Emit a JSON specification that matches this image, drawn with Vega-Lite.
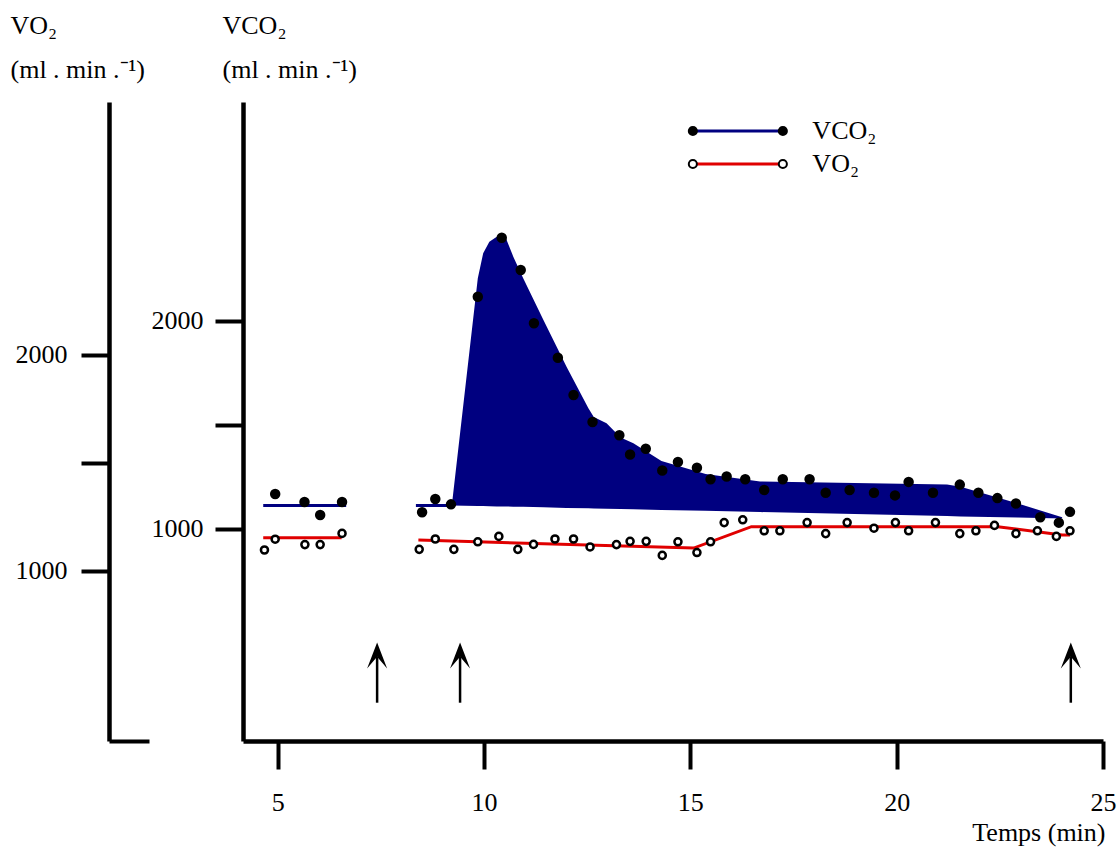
{
  "$schema": "https://vega.github.io/schema/vega-lite/v6.json",
  "width": 860,
  "height": 639,
  "autosize": "none",
  "padding": {"left": 243, "top": 102, "right": 14, "bottom": 106},
  "background": "white",
  "config": {
    "view": {"stroke": null},
    "font": "Liberation Serif",
    "axis": {
      "grid": false,
      "domainColor": "black",
      "domainWidth": 4.5,
      "tickColor": "black",
      "tickWidth": 4,
      "tickSize": 28,
      "labelFont": "Liberation Serif",
      "labelFontSize": 26,
      "labelColor": "black",
      "titleFont": "Liberation Serif",
      "titleFontSize": 26,
      "titleFontWeight": "normal",
      "titleColor": "black",
      "labelOverlap": false,
      "labelFlush": false
    }
  },
  "datasets": {
    "vco2pts": [
      {"t": 4.94, "v": 1167, "series": "VCO₂"}, {"t": 5.65, "v": 1128, "series": "VCO₂"}, {"t": 6.03, "v": 1066, "series": "VCO₂"}, {"t": 6.56, "v": 1128, "series": "VCO₂"},
      {"t": 8.50, "v": 1079, "series": "VCO₂"}, {"t": 8.82, "v": 1143, "series": "VCO₂"}, {"t": 9.20, "v": 1117, "series": "VCO₂"}, {"t": 9.85, "v": 2115, "series": "VCO₂"},
      {"t": 10.43, "v": 2399, "series": "VCO₂"}, {"t": 10.89, "v": 2244, "series": "VCO₂"}, {"t": 11.21, "v": 1988, "series": "VCO₂"}, {"t": 11.79, "v": 1822, "series": "VCO₂"},
      {"t": 12.17, "v": 1643, "series": "VCO₂"}, {"t": 12.63, "v": 1513, "series": "VCO₂"}, {"t": 13.28, "v": 1449, "series": "VCO₂"}, {"t": 13.54, "v": 1357, "series": "VCO₂"},
      {"t": 13.92, "v": 1384, "series": "VCO₂"}, {"t": 14.32, "v": 1280, "series": "VCO₂"}, {"t": 14.70, "v": 1321, "series": "VCO₂"}, {"t": 15.16, "v": 1293, "series": "VCO₂"},
      {"t": 15.49, "v": 1238, "series": "VCO₂"}, {"t": 15.88, "v": 1251, "series": "VCO₂"}, {"t": 16.33, "v": 1238, "series": "VCO₂"}, {"t": 16.79, "v": 1186, "series": "VCO₂"},
      {"t": 17.24, "v": 1238, "series": "VCO₂"}, {"t": 17.89, "v": 1238, "series": "VCO₂"}, {"t": 18.28, "v": 1173, "series": "VCO₂"}, {"t": 18.86, "v": 1186, "series": "VCO₂"},
      {"t": 19.45, "v": 1173, "series": "VCO₂"}, {"t": 19.96, "v": 1160, "series": "VCO₂"}, {"t": 20.29, "v": 1225, "series": "VCO₂"}, {"t": 20.88, "v": 1173, "series": "VCO₂"},
      {"t": 21.53, "v": 1212, "series": "VCO₂"}, {"t": 21.98, "v": 1173, "series": "VCO₂"}, {"t": 22.44, "v": 1147, "series": "VCO₂"}, {"t": 22.89, "v": 1121, "series": "VCO₂"},
      {"t": 23.48, "v": 1055, "series": "VCO₂"}, {"t": 23.93, "v": 1029, "series": "VCO₂"}, {"t": 24.20, "v": 1081, "series": "VCO₂"}
    ],
    "vco2line": [
      {"t": 4.65, "v": 1111, "seg": "a", "series": "VCO₂"}, {"t": 6.66, "v": 1111, "seg": "a", "series": "VCO₂"},
      {"t": 8.35, "v": 1111, "seg": "b", "series": "VCO₂"}, {"t": 9.24, "v": 1111, "seg": "b", "series": "VCO₂"}
    ],
    "area": [
      {"t": 9.22, "hi": 1111, "lo": 1112}, {"t": 9.85, "hi": 2204, "lo": 1109}, {"t": 9.98, "hi": 2324, "lo": 1109},
      {"t": 10.13, "hi": 2380, "lo": 1108}, {"t": 10.31, "hi": 2404, "lo": 1107}, {"t": 10.39, "hi": 2412, "lo": 1107},
      {"t": 10.51, "hi": 2407, "lo": 1107}, {"t": 10.71, "hi": 2308, "lo": 1106}, {"t": 10.95, "hi": 2204, "lo": 1105},
      {"t": 11.44, "hi": 2003, "lo": 1103}, {"t": 12.00, "hi": 1779, "lo": 1100}, {"t": 12.53, "hi": 1579, "lo": 1098},
      {"t": 12.66, "hi": 1537, "lo": 1097}, {"t": 12.97, "hi": 1507, "lo": 1096}, {"t": 13.31, "hi": 1439, "lo": 1095},
      {"t": 13.62, "hi": 1411, "lo": 1093}, {"t": 14.30, "hi": 1325, "lo": 1090}, {"t": 15.37, "hi": 1263, "lo": 1086},
      {"t": 16.69, "hi": 1227, "lo": 1080}, {"t": 21.22, "hi": 1213, "lo": 1061}, {"t": 21.55, "hi": 1202, "lo": 1059},
      {"t": 22.94, "hi": 1121, "lo": 1054}, {"t": 24.01, "hi": 1055, "lo": 1049}
    ],
    "vo2pts": [
      {"t": 4.68, "v": 1096, "series": "VO₂"}, {"t": 4.94, "v": 1146, "series": "VO₂"}, {"t": 5.66, "v": 1121, "series": "VO₂"}, {"t": 6.03, "v": 1121, "series": "VO₂"}, {"t": 6.56, "v": 1173, "series": "VO₂"},
      {"t": 8.43, "v": 1099, "series": "VO₂"}, {"t": 8.82, "v": 1147, "series": "VO₂"}, {"t": 9.27, "v": 1099, "series": "VO₂"}, {"t": 9.85, "v": 1134, "series": "VO₂"},
      {"t": 10.36, "v": 1159, "series": "VO₂"}, {"t": 10.82, "v": 1099, "series": "VO₂"}, {"t": 11.20, "v": 1122, "series": "VO₂"}, {"t": 11.72, "v": 1147, "series": "VO₂"},
      {"t": 12.17, "v": 1147, "series": "VO₂"}, {"t": 12.57, "v": 1110, "series": "VO₂"}, {"t": 13.21, "v": 1121, "series": "VO₂"}, {"t": 13.54, "v": 1136, "series": "VO₂"},
      {"t": 13.93, "v": 1136, "series": "VO₂"}, {"t": 14.32, "v": 1071, "series": "VO₂"}, {"t": 14.70, "v": 1134, "series": "VO₂"}, {"t": 15.16, "v": 1084, "series": "VO₂"},
      {"t": 15.49, "v": 1134, "series": "VO₂"}, {"t": 15.82, "v": 1223, "series": "VO₂"}, {"t": 16.27, "v": 1236, "series": "VO₂"}, {"t": 16.79, "v": 1185, "series": "VO₂"},
      {"t": 17.17, "v": 1185, "series": "VO₂"}, {"t": 17.83, "v": 1223, "series": "VO₂"}, {"t": 18.28, "v": 1172, "series": "VO₂"}, {"t": 18.80, "v": 1223, "series": "VO₂"},
      {"t": 19.45, "v": 1197, "series": "VO₂"}, {"t": 19.97, "v": 1223, "series": "VO₂"}, {"t": 20.29, "v": 1185, "series": "VO₂"}, {"t": 20.94, "v": 1223, "series": "VO₂"},
      {"t": 21.53, "v": 1172, "series": "VO₂"}, {"t": 21.92, "v": 1185, "series": "VO₂"}, {"t": 22.37, "v": 1210, "series": "VO₂"}, {"t": 22.89, "v": 1172, "series": "VO₂"},
      {"t": 23.41, "v": 1185, "series": "VO₂"}, {"t": 23.87, "v": 1159, "series": "VO₂"}, {"t": 24.20, "v": 1185, "series": "VO₂"}
    ],
    "vo2line": [
      {"t": 4.65, "v": 1153, "seg": "a", "series": "VO₂"}, {"t": 6.55, "v": 1153, "seg": "a", "series": "VO₂"},
      {"t": 8.41, "v": 1142, "seg": "b", "series": "VO₂"}, {"t": 15.08, "v": 1105, "seg": "b", "series": "VO₂"},
      {"t": 16.48, "v": 1204, "seg": "b", "series": "VO₂"}, {"t": 22.45, "v": 1204, "seg": "b", "series": "VO₂"},
      {"t": 24.01, "v": 1166, "seg": "b", "series": "VO₂"}, {"t": 24.20, "v": 1165, "seg": "b", "series": "VO₂"}
    ],
    "arrows": [
      {"t": 7.41, "base": 388, "top": 600, "head": 607},
      {"t": 9.42, "base": 388, "top": 600, "head": 607},
      {"t": 24.22, "base": 388, "top": 600, "head": 607}
    ]
  },
  "encoding": {
    "x": {
      "field": "t",
      "type": "quantitative",
      "scale": {"domain": [4.16, 25], "nice": false, "zero": false},
      "axis": {
        "values": [5, 10, 15, 20, 25],
        "format": "d",
        "labelPadding": 20,
        "title": "Temps (min)",
        "titleAngle": 0,
        "titleAlign": "right",
        "titleBaseline": "alphabetic",
        "titleX": 862,
        "titleY": 99
      }
    }
  },
  "layer": [
    {
      "layer": [
        {
          "data": {"name": "area"},
          "mark": {"type": "area", "fill": "#000080", "opacity": 1},
          "encoding": {
            "y": {
              "field": "hi", "type": "quantitative",
              "scale": {"domain": [-20.7, 3051.4], "nice": false, "zero": false},
              "axis": {"orient": "left", "offset": 0, "values": [1000, 1500, 2000], "format": "d", "labelExpr": "datum.value == 1500 ? '' : datum.label", "labelPadding": 12, "title": ["VCO₂", "(ml . min .⁻¹)"], "titleAngle": 0, "titleAlign": "left", "titleBaseline": "alphabetic", "titleX": -21, "titleY": -69, "titleLineHeight": 44}
            },
            "y2": {"field": "lo"}
          }
        },
        {
          "data": {"name": "vco2line"},
          "mark": {"type": "line", "strokeWidth": 3},
          "encoding": {
            "y": {
              "field": "v", "type": "quantitative",
              "scale": {"domain": [-20.7, 3051.4], "nice": false, "zero": false},
              "axis": {"orient": "left", "offset": 0, "values": [1000, 1500, 2000], "format": "d", "labelExpr": "datum.value == 1500 ? '' : datum.label", "labelPadding": 12, "title": ["VCO₂", "(ml . min .⁻¹)"], "titleAngle": 0, "titleAlign": "left", "titleBaseline": "alphabetic", "titleX": -21, "titleY": -69, "titleLineHeight": 44}
            },
            "detail": {"field": "seg"},
            "stroke": {
              "field": "series", "type": "nominal",
              "scale": {"domain": ["VCO₂", "VO₂"], "range": ["#000080", "#e00000"]},
              "legend": {"orient": "none", "legendX": 440.35, "legendY": 16, "title": null, "symbolType": "M-1,0L1,0", "symbolSize": 8100, "symbolStrokeWidth": 3, "clipHeight": 26, "rowPadding": 7, "padding": 0, "labelFont": "Liberation Serif", "labelFontSize": 26, "labelColor": "black", "labelOffset": 28, "labelBaseline": "middle", "labelLimit": 0, "symbolOffset": 8}
            }
          }
        },
        {
          "data": {"name": "vco2pts"},
          "mark": {"type": "point", "filled": true, "opacity": 1, "stroke": "black", "strokeWidth": 2, "size": 72},
          "encoding": {
            "y": {
              "field": "v", "type": "quantitative",
              "scale": {"domain": [-20.7, 3051.4], "nice": false, "zero": false},
              "axis": {"orient": "left", "offset": 0, "values": [1000, 1500, 2000], "format": "d", "labelExpr": "datum.value == 1500 ? '' : datum.label", "labelPadding": 12, "title": ["VCO₂", "(ml . min .⁻¹)"], "titleAngle": 0, "titleAlign": "left", "titleBaseline": "alphabetic", "titleX": -21, "titleY": -69, "titleLineHeight": 44}
            },
            "fill": {
              "field": "series", "type": "nominal",
              "scale": {"domain": ["VO₂", "VCO₂"], "range": ["white", "black"]},
              "legend": {"orient": "none", "legendX": 440.85, "legendY": 16, "title": null, "values": ["VCO₂", "VO₂"], "symbolType": "M-1.09,0A0.09,0.09 0 1,0 -0.91,0A0.09,0.09 0 1,0 -1.09,0ZM0.91,0A0.09,0.09 0 1,0 1.09,0A0.09,0.09 0 1,0 0.91,0Z", "symbolSize": 8100, "symbolStrokeWidth": 2, "symbolStrokeColor": "black", "clipHeight": 26, "rowPadding": 7, "padding": 0, "labelFont": "Liberation Serif", "labelFontSize": 26, "labelOpacity": 0, "labelOffset": 28, "labelBaseline": "middle", "labelLimit": 0, "symbolOffset": 8}
            }
          }
        }
      ]
    },
    {
      "layer": [
        {
          "data": {"name": "vo2line"},
          "mark": {"type": "line", "strokeWidth": 3},
          "encoding": {
            "y": {
              "field": "v", "type": "quantitative",
              "scale": {"domain": [210.5, 3172.9], "nice": false, "zero": false},
              "axis": {"orient": "left", "offset": 134, "values": [1000, 1500, 2000], "format": "d", "labelExpr": "datum.value == 1500 ? '' : datum.label", "labelPadding": 14, "title": ["VO₂", "(ml . min .⁻¹)"], "titleAngle": 0, "titleAlign": "left", "titleBaseline": "alphabetic", "titleX": -99, "titleY": -69, "titleLineHeight": 44}
            },
            "detail": {"field": "seg"},
            "stroke": {
              "field": "series", "type": "nominal",
              "scale": {"domain": ["VCO₂", "VO₂"], "range": ["#000080", "#e00000"]},
              "legend": {"orient": "none", "legendX": 440.35, "legendY": 16, "title": null, "symbolType": "M-1,0L1,0", "symbolSize": 8100, "symbolStrokeWidth": 3, "clipHeight": 26, "rowPadding": 7, "padding": 0, "labelFont": "Liberation Serif", "labelFontSize": 26, "labelColor": "black", "labelOffset": 28, "labelBaseline": "middle", "labelLimit": 0, "symbolOffset": 8}
            }
          }
        },
        {
          "data": {"name": "vo2pts"},
          "mark": {"type": "point", "filled": true, "opacity": 1, "stroke": "black", "strokeWidth": 2.5, "size": 50},
          "encoding": {
            "y": {
              "field": "v", "type": "quantitative",
              "scale": {"domain": [210.5, 3172.9], "nice": false, "zero": false},
              "axis": {"orient": "left", "offset": 134, "values": [1000, 1500, 2000], "format": "d", "labelExpr": "datum.value == 1500 ? '' : datum.label", "labelPadding": 14, "title": ["VO₂", "(ml . min .⁻¹)"], "titleAngle": 0, "titleAlign": "left", "titleBaseline": "alphabetic", "titleX": -99, "titleY": -69, "titleLineHeight": 44}
            },
            "fill": {
              "field": "series", "type": "nominal",
              "scale": {"domain": ["VO₂", "VCO₂"], "range": ["white", "black"]},
              "legend": {"orient": "none", "legendX": 440.85, "legendY": 16, "title": null, "values": ["VCO₂", "VO₂"], "symbolType": "M-1.09,0A0.09,0.09 0 1,0 -0.91,0A0.09,0.09 0 1,0 -1.09,0ZM0.91,0A0.09,0.09 0 1,0 1.09,0A0.09,0.09 0 1,0 0.91,0Z", "symbolSize": 8100, "symbolStrokeWidth": 2, "symbolStrokeColor": "black", "clipHeight": 26, "rowPadding": 7, "padding": 0, "labelFont": "Liberation Serif", "labelFontSize": 26, "labelOpacity": 0, "labelOffset": 28, "labelBaseline": "middle", "labelLimit": 0, "symbolOffset": 8}
            }
          }
        }
      ]
    },
    {
      "data": {"name": "arrows"},
      "layer": [
        {
          "mark": {"type": "rule", "strokeWidth": 2.5, "color": "black"},
          "encoding": {
            "y": {
              "field": "base", "type": "quantitative",
              "scale": {"domain": [210.5, 3172.9], "nice": false, "zero": false},
              "axis": {"orient": "left", "offset": 134, "values": [210.5], "labels": false, "domain": false, "title": null, "tickSize": -40, "tickWidth": 4}
            },
            "y2": {"field": "top"}
          }
        },
        {
          "mark": {"type": "point", "shape": "M0,-1L0.77,1L0,0.1L-0.77,1Z", "filled": true, "fill": "black", "strokeWidth": 0, "opacity": 1, "size": 676},
          "encoding": {
            "y": {
              "field": "head", "type": "quantitative",
              "scale": {"domain": [210.5, 3172.9], "nice": false, "zero": false},
              "axis": {"orient": "left", "offset": 134, "values": [210.5], "labels": false, "domain": false, "title": null, "tickSize": -40, "tickWidth": 4}
            }
          }
        }
      ]
    }
  ],
  "resolve": {"scale": {"y": "independent"}}
}
